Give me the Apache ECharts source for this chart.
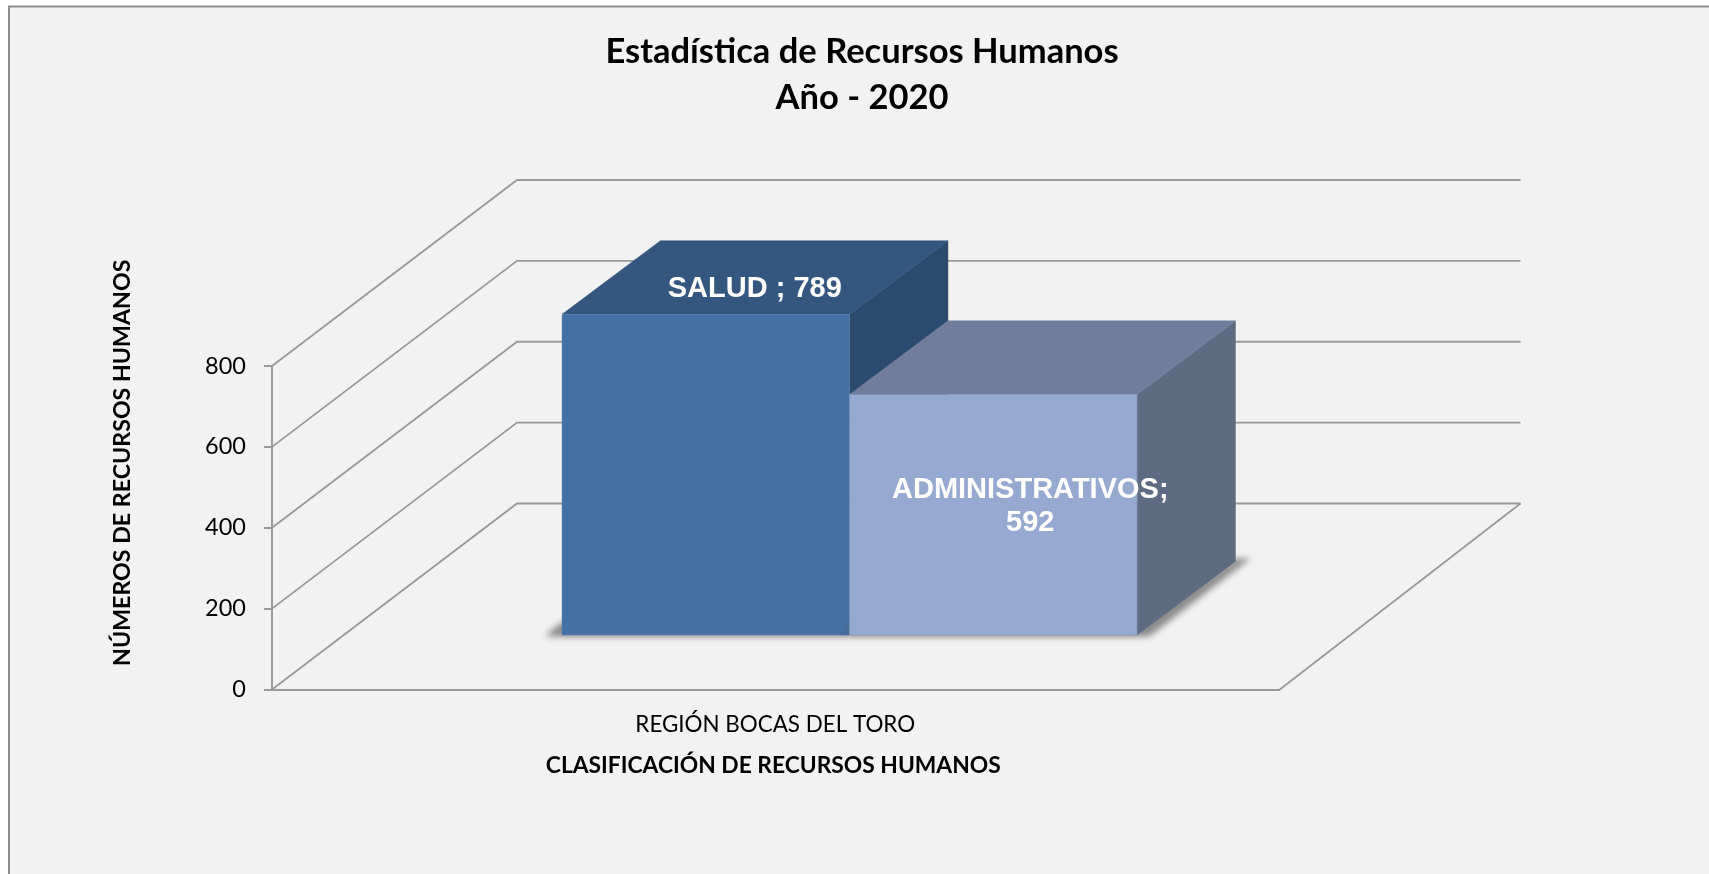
<!DOCTYPE html>
<html lang="es">
<head>
<meta charset="utf-8">
<title>Estadística de Recursos Humanos</title>
<style>html,body{margin:0;padding:0;background:#fff}#c{width:1709px;height:874px}</style>
<script src="https://cdn.jsdelivr.net/npm/echarts@6/dist/echarts.min.js"></script>
</head>
<body>
<div id="c"></div>
<script>
const categories = ['REGIÓN BOCAS DEL TORO'];
const seriesNames = ['SALUD', 'ADMINISTRATIVOS'];
const saludValues = [789];
const administrativosValues = [592];
const yTicks = [0, 200, 400, 600, 800];

const TITLE_FONT = 'Lato, Carlito, Calibri, sans-serif';
const LABEL_FONT = 'bold 29px "Liberation Sans", Arial, sans-serif';
const LINE = '#9a9a9a';

// 3D projection constants for the drawing
const WALL_DX = 245, WALL_DY = 186, FLOOR_BACK_DX = 242;
const BAR_W = 287.5, BAR_DX = 98.4, BAR_DY = 73.6;
const BAR_OFFSET_X = 74.3, BAR_BASE_UP = 54.5, BAR_SCALE = 1.005;
const SHADOW_SHIFT = 3000;

const barStyles = [
  {front:'#4470a5', top:'#34567f', side:'#2b4a6e', edge:'#5a7fae', labelDx:49, labelDy:-25.5, labelFromTop:true,
   text:(n,v)=>n+' ; '+v},
  {front:'#96a9d0', top:'#707e9c', side:'#5e6c83', edge:'#8296bd', labelDx:37, labelDy:-8.5, labelFromTop:false,
   text:(n,v)=>n+';\n'+v}
];

function wallItem(params, api) {
  const v = api.value(1);
  const p = api.coord([0, v]);
  const g = params.coordSys;
  const x0 = g.x, y = p[1];
  const children = [{
    type:'polyline',
    shape:{points:[[x0,y],[x0+WALL_DX,y-WALL_DY],[g.x+g.width+FLOOR_BACK_DX,y-WALL_DY]]},
    style:{fill:null, stroke:LINE, lineWidth:1.8}
  }];
  if (v === 0) {
    children.push({
      type:'polyline',
      shape:{points:[[g.x+g.width,y+1],[g.x+g.width+FLOOR_BACK_DX,y-WALL_DY]]},
      style:{fill:null, stroke:LINE, lineWidth:1.8}
    });
  }
  return {type:'group', children};
}

function barItem(index) {
  return function (params, api) {
    const st = barStyles[index];
    const v = api.value(1);
    const base = api.coord([api.value(0), 0]);
    const y0 = base[1] - BAR_BASE_UP;
    const h = (base[1] - api.coord([0, v])[1]) * BAR_SCALE;
    const yt = y0 - h;
    const xl = base[0] + BAR_OFFSET_X + (index - 1) * BAR_W;
    const xr = xl + BAR_W;
    const name = seriesNames[index];
    const shadow = (index === 0
      ? [[xl-17,y0+1],[xl,y0-13],[xr,y0-13],[xr,y0+2],[xl,y0+2]]
      : [[xl,y0-10],[xr,y0-10],[xr+BAR_DX,y0-BAR_DY-3],[xr+BAR_DX+15,y0-BAR_DY-3],[xr+13,y0+1],[xr,y0+2],[xl,y0+2]]
    ).map(p=>[p[0]-SHADOW_SHIFT,p[1]]);
    const children = [
      {type:'polygon', shape:{points:shadow},
       style:{fill:'#000', shadowBlur:6, shadowOffsetX:SHADOW_SHIFT, shadowColor:'rgba(95,95,95,0.7)'}},
      {type:'polygon', shape:{points:[[xr,yt],[xr+BAR_DX,yt-BAR_DY],[xr+BAR_DX,y0-BAR_DY],[xr,y0]]},
       style:{fill:st.side, stroke:st.side, lineWidth:0.5}},
      {type:'polygon', shape:{points:[[xl,yt],[xl+BAR_DX,yt-BAR_DY],[xr+BAR_DX,yt-BAR_DY],[xr,yt]]},
       style:{fill:st.top, stroke:st.top, lineWidth:0.5}},
      {type:'rect', shape:{x:xl,y:yt,width:BAR_W,height:h},
       style:{fill:st.front, stroke:st.edge, lineWidth:0.5}},
      {type:'text',
       style:{
         text:st.text(name, v),
         x:(xl+xr)/2+st.labelDx,
         y:(st.labelFromTop ? yt : (yt+y0)/2)+st.labelDy,
         align:'center', verticalAlign:'middle',
         font:LABEL_FONT, lineHeight:33, fill:'#ffffff'
       }}
    ];
    return {type:'group', children};
  };
}

const chart = echarts.init(document.getElementById('c'), null, {renderer:'canvas', width:1709, height:874});
chart.setOption({
  animation:false,
  backgroundColor:'#ffffff',
  graphic:[{
    type:'rect', z:-10, silent:true,
    shape:{x:9,y:6.5,width:1740,height:900},
    style:{fill:'#f2f2f2', stroke:'#8e8e8e', lineWidth:2}
  }],
  title:{
    text:'Estadística de Recursos Humanos\nAño - 2020',
    left:857, top:24, textAlign:'center',
    textStyle:{fontFamily:TITLE_FONT, fontWeight:'bold', fontSize:34.5, lineHeight:46, color:'#000'}
  },
  grid:{left:272, top:366, width:1006.5, height:323.5},
  xAxis:{
    type:'category', data:categories,
    axisLine:{lineStyle:{color:LINE, width:2}},
    axisTick:{show:false},
    axisLabel:{fontFamily:TITLE_FONT, fontSize:22.4, color:'#000', margin:24},
    name:'CLASIFICACIÓN DE RECURSOS HUMANOS',
    nameLocation:'middle', nameGap:65,
    nameTextStyle:{fontFamily:TITLE_FONT, fontWeight:'bold', fontSize:22.8, color:'#000', padding:[0,4,0,0]}
  },
  yAxis:{
    type:'value', min:0, max:800, interval:200,
    axisLine:{show:true, lineStyle:{color:LINE, width:2}},
    axisTick:{show:true, length:8, lineStyle:{color:LINE, width:2}},
    splitLine:{show:false},
    axisLabel:{fontFamily:TITLE_FONT, fontSize:23.5, color:'#000', margin:26, padding:[2,0,0,0]},
    name:'NÚMEROS DE RECURSOS HUMANOS',
    nameLocation:'middle', nameGap:138,
    nameTextStyle:{fontFamily:TITLE_FONT, fontWeight:'bold', fontSize:23.2, color:'#000', padding:[0,0,0,130]}
  },
  series:[
    {type:'custom', name:'paredes', silent:true, clip:false, z:1, renderItem:wallItem,
     encode:{x:0,y:1}, data:yTicks.map(v=>[0,v])},
    {type:'custom', name:seriesNames[0], silent:true, clip:false, z:2, renderItem:barItem(0),
     encode:{x:0,y:1}, data:saludValues.map((v,i)=>[i,v])},
    {type:'custom', name:seriesNames[1], silent:true, clip:false, z:3, renderItem:barItem(1),
     encode:{x:0,y:1}, data:administrativosValues.map((v,i)=>[i,v])}
  ]
});
</script>
</body>
</html>
